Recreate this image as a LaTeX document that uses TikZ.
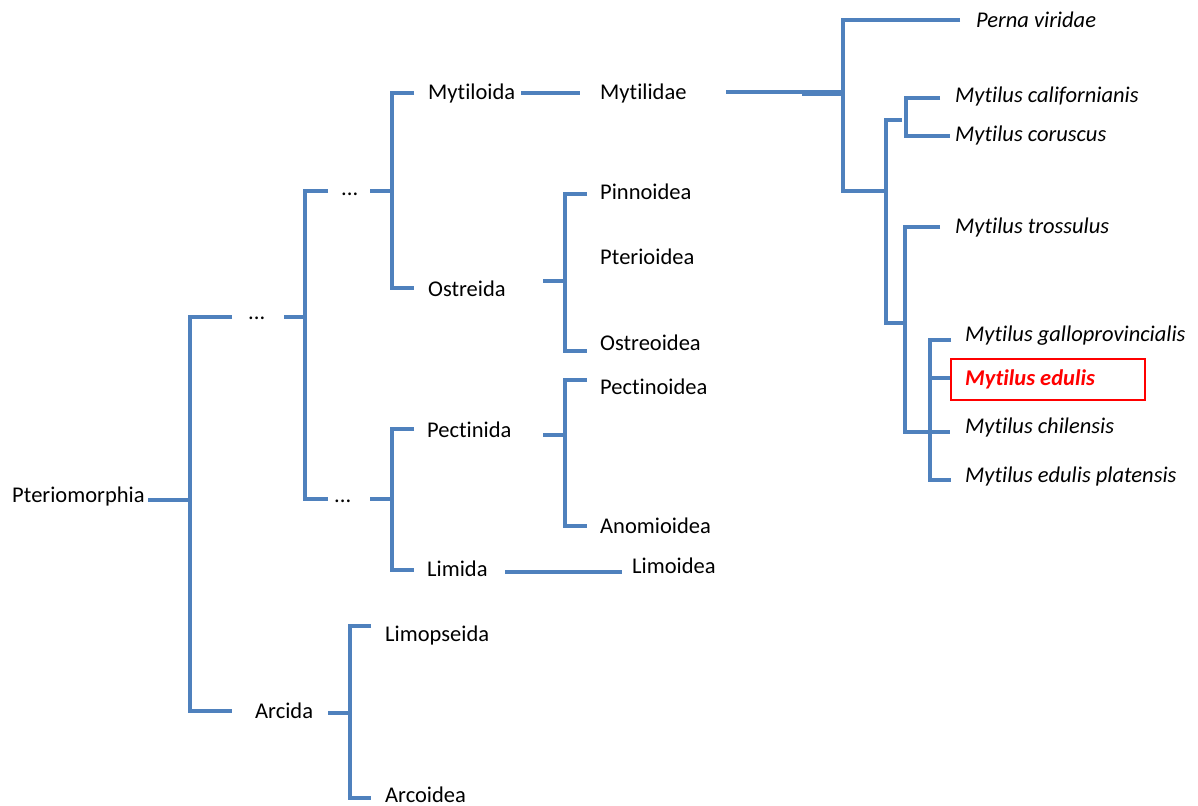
\documentclass[tikz,border=0pt]{standalone}
\usepackage{fontspec}
\setmainfont{Carlito}[Ligatures={NoCommon}]
\definecolor{treeblue}{RGB}{79,129,189}
\definecolor{boxred}{RGB}{255,0,0}
\newcommand{\fs}{\fontsize{22.5}{27}\selectfont}
\begin{document}
\begin{tikzpicture}[x=1pt,y=-1pt,
  tree/.style={draw=treeblue,line width=3.2pt,line join=miter},
  lbl/.style={anchor=base west,inner sep=0pt,font=\fs,text=black},
  sp/.style={lbl,font=\fs\itshape},
  hl/.style={draw=boxred,line width=1.6pt}]
\useasboundingbox (0,0) rectangle (1198,805);
% labels
\node[lbl] (pter) at (12,502) {Pteriomorphia};
\node[lbl] (d1) at (248,319) {...};
\node[lbl] (d2) at (341,196) {...};
\node[lbl] (d3) at (334,502) {...};
\node[lbl] (myto) at (428,100) {Mytiloida};
\node[lbl] (mytd) at (600,100) {Mytilidae};
\node[lbl] (ostr) at (428,296) {Ostreida};
\node[lbl] (pinn) at (600,200) {Pinnoidea};
\node[lbl] (pteri) at (600,264) {Pterioidea};
\node[lbl] (ostro) at (600,350) {Ostreoidea};
\node[lbl] (pect) at (427,437) {Pectinida};
\node[lbl] (pecto) at (600,394) {Pectinoidea};
\node[lbl] (anom) at (600,533) {Anomioidea};
\node[lbl] (lim) at (427,576) {Limida};
\node[lbl] (limo) at (632,573) {Limoidea};
\node[lbl] (arc) at (255,718) {Arcida};
\node[lbl] (limp) at (385,641) {Limopseida};
\node[lbl] (arco) at (385,802) {Arcoidea};
\node[sp] (perna) at (976,28) {Perna viridae};
\node[sp] (mcal) at (955,103) {Mytilus californianis};
\node[sp] (mcor) at (955,142) {Mytilus coruscus};
\node[sp] (mtro) at (955,233) {Mytilus trossulus};
\node[sp] (mgal) at (965,341) {Mytilus galloprovincialis};
\node[sp,font=\fs\bfseries\itshape,text=boxred] (medu) at (965,385) {Mytilus edulis};
\node[sp] (mchi) at (965,433) {Mytilus chilensis};
\node[sp] (mpla) at (965,482) {Mytilus edulis platensis};
\node[hl,inner sep=0pt,anchor=north west,minimum width=194pt,minimum height=41pt] (box) at (950,358) {};
% tree
\draw[tree] (148,500) -- (190,500);
\draw[tree] (232,317) -- (190,317) -- (190,711) -- (232,711);
\draw[tree] (284,317) -- (305,317);
\draw[tree] (328,191) -- (305,191) -- (305,499) -- (328,499);
\draw[tree] (370,191) -- (392,191);
\draw[tree] (414,93) -- (392,93) -- (392,288) -- (414,288);
\draw[tree] (521,93) -- (580,93);
\draw[tree] (726,92) -- (843,92);
\draw[tree] (802,94) -- (843,94);
\draw[tree] (960,20) -- (843,20) -- (843,191) -- (886,191);
\draw[tree] (902,120) -- (886,120) -- (886,323) -- (905,323);
\draw[tree] (940,98) -- (906,98) -- (906,136) -- (950,136);
\draw[tree] (940,227) -- (905,227) -- (905,432) -- (950,432);
\draw[tree] (951,340) -- (930,340) -- (930,480) -- (951,480);
\draw[tree] (930,378) -- (950,378);
\draw[tree] (543,281) -- (565,281);
\draw[tree] (587,194) -- (565,194) -- (565,351) -- (587,351);
\draw[tree] (370,499) -- (392,499);
\draw[tree] (414,429) -- (392,429) -- (392,570) -- (414,570);
\draw[tree] (543,435) -- (565,435);
\draw[tree] (587,380) -- (565,380) -- (565,526) -- (587,526);
\draw[tree] (505,572) -- (622,572);
\draw[tree] (328,713) -- (350,713);
\draw[tree] (371,626) -- (350,626) -- (350,798) -- (371,798);
\end{tikzpicture}
\end{document}
